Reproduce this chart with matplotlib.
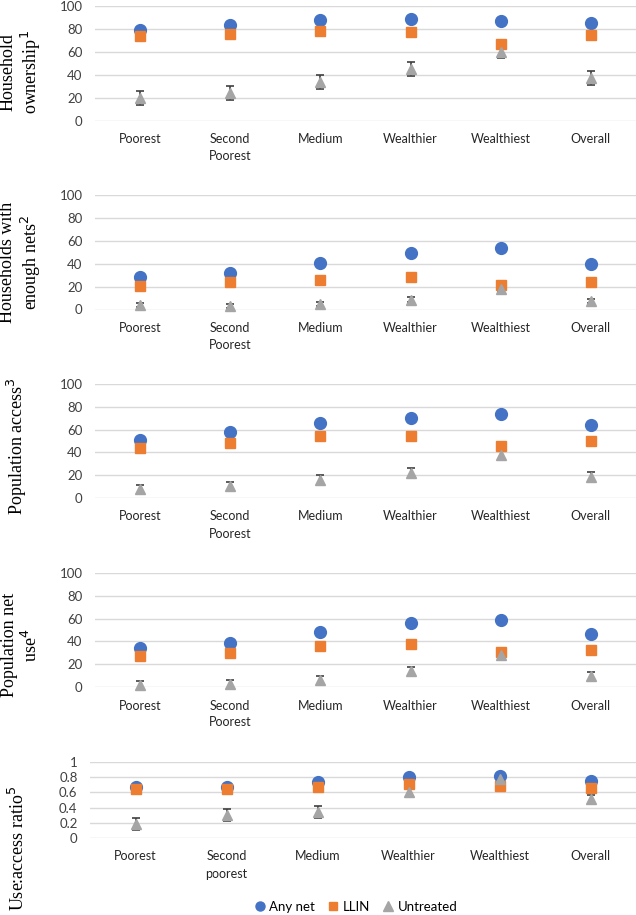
import matplotlib
matplotlib.use("Agg")
import matplotlib.pyplot as plt
from matplotlib.lines import Line2D
import numpy as np

# categories
groups = ["Poorest", "Second\nPoorest", "Medium", "Wealthier", "Wealthiest", "Overall"]
groups_last = ["Poorest", "Second\npoorest", "Medium", "Wealthier", "Wealthiest", "Overall"]

# household ownership
own_any = [79, 83, 88, 89, 87, 85]
own_llin = [74, 76, 78.5, 77, 67, 75]
own_unt = [19.5, 24, 34, 45, 60, 37]
own_unt_err = [6, 6, 6, 6, 5, 6]

# households with enough nets
enough_any = [28, 32, 41, 49, 53.4, 40]
enough_llin = [20.4, 24, 25.6, 28.6, 21, 24]
enough_unt = [4, 3, 4.7, 8.7, 17.5, 7.6]
enough_unt_err = [2, 1.5, 2, 2.5, 2.5, 2]

# population access
acc_any = [50.7, 57.5, 66, 70.4, 74, 63.6]
acc_llin = [43.7, 48.4, 54.3, 54.3, 46, 49.6]
acc_unt = [7.6, 10.3, 16, 22.3, 37.5, 18.5]
acc_unt_err = [4, 4, 4, 4, 4, 4]

# population net use
use_any = [34.5, 39, 48, 56, 58.5, 46.2]
use_llin = [27.5, 30, 35.7, 37.4, 30.7, 32.7]
use_unt = [1.5, 3, 5.8, 14, 28.4, 9.4]
use_unt_err = [3.5, 3.5, 3.5, 3.5, 3, 3.5]

# use:access ratio
ratio_any = [0.67, 0.67, 0.74, 0.80, 0.81, 0.75]
ratio_llin = [0.64, 0.64, 0.67, 0.71, 0.685, 0.66]
ratio_unt = [0.18, 0.30, 0.34, 0.61, 0.77, 0.51]
ratio_unt_err = [0.08, 0.08, 0.08, 0.06, 0.05, 0.06]

BLUE = "#4472C4"
ORANGE = "#ED7D31"
GRAY = "#A5A5A5"
ERR = "#404040"
GRID = "#D9D9D9"
SANS = ["Lato", "DejaVu Sans"]
SERIF = ["Liberation Serif", "DejaVu Serif"]

panels = [
    (own_any, own_llin, own_unt, own_unt_err, 100, groups, "Household\nownership$^1$"),
    (enough_any, enough_llin, enough_unt, enough_unt_err, 100, groups, "Households with\nenough nets$^2$"),
    (acc_any, acc_llin, acc_unt, acc_unt_err, 100, groups, "Population access$^3$"),
    (use_any, use_llin, use_unt, use_unt_err, 100, groups, "Population net\nuse$^4$"),
    (ratio_any, ratio_llin, ratio_unt, ratio_unt_err, 1, groups_last, "Use:access ratio$^5$"),
]

# axes boxes in pixels: left, top, bottom
W, H = 636, 915
boxes = [(95, 6, 120.7), (95, 195, 309.5), (95, 384, 498), (95, 573, 687), (90, 762, 838)]
label_pos = [(21, 72), (21, 262), (17, 446), (21, 645), (18, 848)]

fig = plt.figure(figsize=(W / 100, H / 100), dpi=100)

for (anyv, llin, unt, unt_err, ymax, xl, ylab), (lft, top, bot), (lx, ly) in zip(panels, boxes, label_pos):
    ax = fig.add_axes([lft / W, 1 - bot / H, (W - lft) / W, (bot - top) / H])
    x = np.arange(len(xl))
    ax.errorbar(x, unt, yerr=unt_err, fmt="none", ecolor=ERR, elinewidth=1.2,
                capsize=3, capthick=1.2, zorder=2, clip_on=False)
    ax.plot(x, anyv, "o", color=BLUE, ms=8.5, zorder=3, clip_on=False)
    ax.plot(x, llin, "s", color=ORANGE, ms=7, zorder=4, clip_on=False)
    ax.plot(x, unt, "^", color=GRAY, ms=7.5, zorder=5, clip_on=False)
    ax.set_xlim(-0.5, len(xl) - 0.5)
    ax.set_ylim(0, ymax)
    if ymax == 1:
        ax.set_yticks([0, 0.2, 0.4, 0.6, 0.8, 1])
        ax.set_yticklabels(["0", "0.2", "0.4", "0.6", "0.8", "1"])
    else:
        ax.set_yticks([0, 20, 40, 60, 80, 100])
    ax.set_xticks(x)
    ax.set_xticklabels(xl, fontsize=9, family=SANS, linespacing=1.5)
    for t in ax.get_yticklabels():
        t.set_fontsize(9.5)
        t.set_family(SANS)
    ax.tick_params(length=0, pad=9, colors="#404040")
    ax.tick_params(axis="x", pad=9, colors="#262626")
    ax.grid(axis="y", color=GRID, lw=1)
    ax.set_axisbelow(True)
    for s in ax.spines.values():
        s.set_visible(False)
    fig.text(lx / W, 1 - ly / H, ylab, rotation=90, ha="center", va="center",
             fontsize=13, family=SERIF, linespacing=1.15, multialignment="center")

handles = [
    Line2D([], [], marker="o", ls="none", color=BLUE, ms=6.5),
    Line2D([], [], marker="s", ls="none", color=ORANGE, ms=6),
    Line2D([], [], marker="^", ls="none", color=GRAY, ms=6.5),
]
fig.legend(handles, ["Any net", "LLIN", "Untreated"], loc="center",
           bbox_to_anchor=(356 / W, 1 - 907 / H), ncol=3, frameon=False,
           prop={"family": SANS, "size": 9.5}, handlelength=0.8, handletextpad=0.3,
           columnspacing=1.0, borderaxespad=0)

fig.savefig("out.png", dpi=100)
